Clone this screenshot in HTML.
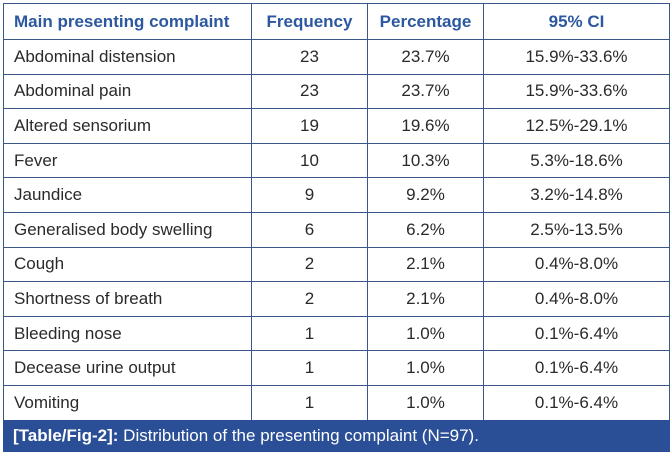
<!DOCTYPE html>
<html><head><style>
body{margin:0;background:#fff;width:672px;height:457px;overflow:hidden;font-family:"Liberation Sans",sans-serif;}
table{position:absolute;left:3px;top:3px;width:667px;border-collapse:collapse;}
td,th{border:1.5px solid #3b5688;font-size:17px;color:#2a2a2a;height:33.6px;padding:0;}
th{color:#2c58a0;font-weight:bold;font-size:17px;height:35px;}
td:first-child,th:first-child{text-align:left;padding-left:10px;}
td{text-align:center;}
.cap{position:absolute;left:3px;top:420px;width:667px;height:32px;background:#2b4f97;color:#fff;font-size:17px;line-height:32px;}
.cap b{padding-left:10px;}
</style></head><body>
<table>
<colgroup><col style="width:248px"><col style="width:116px"><col style="width:116px"><col></colgroup>
<tr><th>Main presenting complaint</th><th style="text-align:center">Frequency</th><th style="text-align:center">Percentage</th><th style="text-align:center">95% CI</th></tr>
<tr><td>Abdominal distension</td><td>23</td><td>23.7%</td><td>15.9%-33.6%</td></tr>
<tr><td>Abdominal pain</td><td>23</td><td>23.7%</td><td>15.9%-33.6%</td></tr>
<tr><td>Altered sensorium</td><td>19</td><td>19.6%</td><td>12.5%-29.1%</td></tr>
<tr><td>Fever</td><td>10</td><td>10.3%</td><td>5.3%-18.6%</td></tr>
<tr><td>Jaundice</td><td>9</td><td>9.2%</td><td>3.2%-14.8%</td></tr>
<tr><td>Generalised body swelling</td><td>6</td><td>6.2%</td><td>2.5%-13.5%</td></tr>
<tr><td>Cough</td><td>2</td><td>2.1%</td><td>0.4%-8.0%</td></tr>
<tr><td>Shortness of breath</td><td>2</td><td>2.1%</td><td>0.4%-8.0%</td></tr>
<tr><td>Bleeding nose</td><td>1</td><td>1.0%</td><td>0.1%-6.4%</td></tr>
<tr><td>Decease urine output</td><td>1</td><td>1.0%</td><td>0.1%-6.4%</td></tr>
<tr><td>Vomiting</td><td>1</td><td>1.0%</td><td>0.1%-6.4%</td></tr>
</table>
<div class="cap"><b>[Table/Fig-2]:</b> Distribution of the presenting complaint (N=97).</div>
</body></html>
